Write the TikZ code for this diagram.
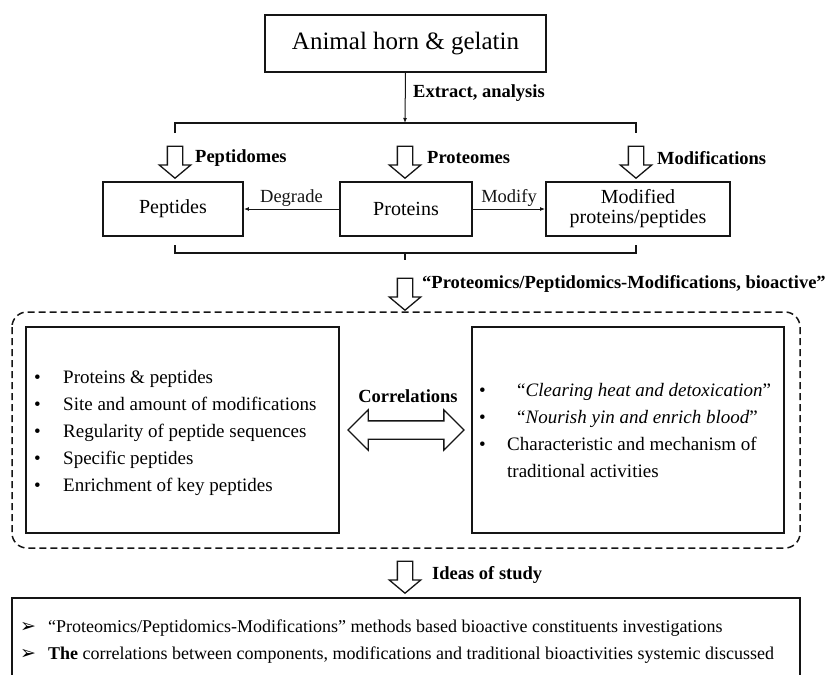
\documentclass[tikz,border=0pt]{standalone}
\usepackage{fontspec}
\setmainfont{Liberation Serif}
\newfontfamily\symFont{DejaVu Sans}
\usepackage{xcolor}
\definecolor{lineDark}{HTML}{151515}
\usepackage{tikz}
\usetikzlibrary{shapes,arrows,positioning,calc,arrows.meta,shapes.arrows}
\tikzset{%
  stageBox/.style={%
    rectangle,
    draw=lineDark,
    line width=1.8pt,
    fill=white,
    minimum height=54pt,
    inner sep=0pt,
    align=center,
    font=\fontsize{20}{20}\selectfont
  },
  listBox/.style={%
    rectangle,
    draw=lineDark,
    line width=1.8pt,
    minimum width=313pt,
    minimum height=206pt
  },
  hollowDown/.style={%
    single arrow,
    draw=lineDark,
    line width=1.3pt,
    fill=white,
    shape border rotate=270,
    single arrow head extend=8pt,
    single arrow tip angle=100,
    minimum height=32pt,
    minimum width=0pt,
    inner sep=7pt
  },
  hollowBoth/.style={%
    double arrow,
    draw=lineDark,
    line width=1.3pt,
    fill=white,
    double arrow head extend=11pt,
    double arrow tip angle=90,
    minimum height=116pt,
    minimum width=0pt,
    inner sep=8.5pt
  },
  stepLabel/.style={%
    anchor=west,
    inner sep=0pt,
    font=\bfseries\fontsize{18.5}{22}\selectfont
  },
  edgeLabel/.style={%
    inner sep=2pt,
    font=\fontsize{18.5}{22}\selectfont
  },
  thinArrow/.style={%
    -{Latex[length=5pt,width=4pt]},
    line width=1pt,
    color=lineDark
  },
  bracketLine/.style={%
    line width=1.4pt,
    color=lineDark
  },
  dashBox/.style={%
    draw=lineDark,
    line width=1.5pt,
    dash pattern=on 7pt off 4pt,
    rounded corners=15pt
  },
  listText/.style={%
    anchor=west,
    inner sep=0pt,
    align=left,
    font=\fontsize{19}{27}\selectfont
  }
}

\begin{document}
\begin{tikzpicture}[x=1pt,y=-1pt]
  \useasboundingbox (0,0) rectangle (831,675);

  % source and first split
  \node[stageBox, minimum width=281pt, minimum height=57pt, font=\fontsize{25}{28}\selectfont] (horn) at (405.5,43.5) {Animal horn \& gelatin};
  \coordinate (splitTop) at (405,123);
  \draw[thinArrow] (horn.south) -- (splitTop);
  \node[stepLabel] (lblExtract) at (413,93) {Extract, analysis};
  \draw[bracketLine] (175,133) -- (175,123) -- (636,123) -- (636,133);

  % three branches
  \node[hollowDown] (arrPep) at (175,159) {};
  \node[hollowDown] (arrPro) at (405,159) {};
  \node[hollowDown] (arrMod) at (636,159) {};
  \node[stepLabel] (lblPep) at (195,158) {Peptidomes};
  \node[stepLabel] (lblPro) at (427,158) {Proteomes};
  \node[stepLabel] (lblMod) at (657,158) {Modifications};

  \node[stageBox, minimum width=132pt] (proteins) at (406,209) {Proteins};
  \node[stageBox, minimum width=140pt] (peptides) at (173,209) {Peptides};
  \node[stageBox, minimum width=184pt] (modified) at (638,209) {Modified\\proteins/peptides};
  \draw[thinArrow] (proteins) -- node[above, edgeLabel] (lblDeg) {Degrade} (peptides);
  \draw[thinArrow] (proteins) -- node[above, edgeLabel] (lblModify) {Modify} (modified);

  % merge
  \draw[bracketLine] (175,245) -- (175,253) -- (636,253) -- (636,245);
  \draw[bracketLine] (405,253) -- (405,260);
  \node[hollowDown] (arrBio) at (405,291) {};
  \node[stepLabel] (lblBio) at (422,284) {``Proteomics/Peptidomics-Modifications, bioactive''};

  % correlation block
  \draw[dashBox] (12,312) rectangle (800,548);
  \node[listBox] (leftBox) at (182.5,430) {};
  \node[listBox, minimum width=312pt] (rightBox) at (628,430) {};
  \node[listText] (leftList) at (34,432) {%
    \begin{tabular}{@{}p{29pt}@{}l@{}}
      \textbullet & Proteins \& peptides\\
      \textbullet & Site and amount of modifications\\
      \textbullet & Regularity of peptide sequences\\
      \textbullet & Specific peptides\\
      \textbullet & Enrichment of key peptides
    \end{tabular}};
  \node[listText] (rightList) at (479,432) {%
    \begin{tabular}{@{}p{28pt}@{}l@{}}
      \textbullet & \hspace{10pt}``\textit{Clearing heat and detoxication}''\\
      \textbullet & \hspace{10pt}``\textit{Nourish yin and enrich blood}''\\
      \textbullet & Characteristic and mechanism of\\
                  & traditional activities
    \end{tabular}};
  \node[hollowBoth] (corr) at (406,430) {};
  \node[stepLabel, anchor=center] (lblCorr) at (408,396) {Correlations};

  % ideas of study
  \node[hollowDown] (arrIdea) at (405,574) {};
  \node[stepLabel] (lblIdea) at (432,575) {Ideas of study};
  \draw[line width=1.8pt, draw=lineDark] (12,598) rectangle (800,700);
  \node[listText, font=\fontsize{18}{27}\selectfont] (ideaList) at (20,641) {%
    \begin{tabular}{@{}p{28pt}@{}l@{}}
      {\symFont\fontsize{19}{20}\selectfont ➢} & ``Proteomics/Peptidomics-Modifications'' methods based bioactive constituents investigations\\
      {\symFont\fontsize{19}{20}\selectfont ➢} & \textbf{The} correlations between components, modifications and traditional bioactivities systemic discussed
    \end{tabular}};
\end{tikzpicture}
\end{document}
